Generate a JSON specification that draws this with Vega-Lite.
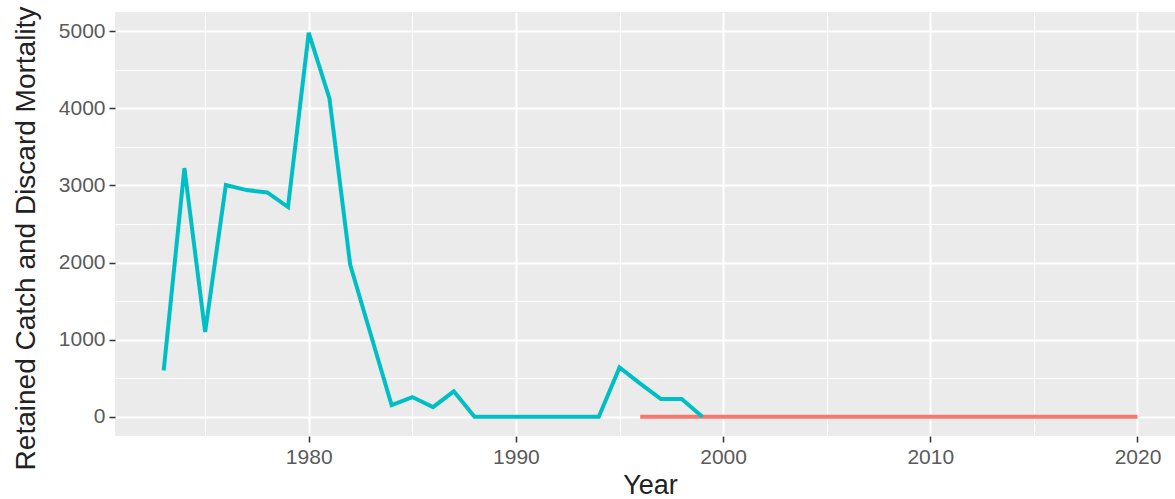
{
  "$schema": "https://vega.github.io/schema/vega-lite/v6.json",
  "width": 1060,
  "height": 424,
  "autosize": {"type": "none"},
  "padding": {"left": 115, "top": 12, "right": 0, "bottom": 63},
  "data": {
    "values": [
      {"year": 1973, "value": 600, "series": "series2"},
      {"year": 1974, "value": 3225, "series": "series2"},
      {"year": 1975, "value": 1100, "series": "series2"},
      {"year": 1976, "value": 3005, "series": "series2"},
      {"year": 1977, "value": 2940, "series": "series2"},
      {"year": 1978, "value": 2910, "series": "series2"},
      {"year": 1979, "value": 2720, "series": "series2"},
      {"year": 1980, "value": 4980, "series": "series2"},
      {"year": 1981, "value": 4130, "series": "series2"},
      {"year": 1982, "value": 1975, "series": "series2"},
      {"year": 1983, "value": 1060, "series": "series2"},
      {"year": 1984, "value": 150, "series": "series2"},
      {"year": 1985, "value": 255, "series": "series2"},
      {"year": 1986, "value": 125, "series": "series2"},
      {"year": 1987, "value": 330, "series": "series2"},
      {"year": 1988, "value": 0, "series": "series2"},
      {"year": 1989, "value": 0, "series": "series2"},
      {"year": 1990, "value": 0, "series": "series2"},
      {"year": 1991, "value": 0, "series": "series2"},
      {"year": 1992, "value": 0, "series": "series2"},
      {"year": 1993, "value": 0, "series": "series2"},
      {"year": 1994, "value": 0, "series": "series2"},
      {"year": 1995, "value": 640, "series": "series2"},
      {"year": 1996, "value": 430, "series": "series2"},
      {"year": 1997, "value": 230, "series": "series2"},
      {"year": 1998, "value": 230, "series": "series2"},
      {"year": 1999, "value": 0, "series": "series2"},
      {"year": 1996, "value": 0, "series": "series1"},
      {"year": 1997, "value": 0, "series": "series1"},
      {"year": 1998, "value": 0, "series": "series1"},
      {"year": 1999, "value": 0, "series": "series1"},
      {"year": 2000, "value": 0, "series": "series1"},
      {"year": 2001, "value": 0, "series": "series1"},
      {"year": 2002, "value": 0, "series": "series1"},
      {"year": 2003, "value": 0, "series": "series1"},
      {"year": 2004, "value": 0, "series": "series1"},
      {"year": 2005, "value": 0, "series": "series1"},
      {"year": 2006, "value": 0, "series": "series1"},
      {"year": 2007, "value": 0, "series": "series1"},
      {"year": 2008, "value": 0, "series": "series1"},
      {"year": 2009, "value": 0, "series": "series1"},
      {"year": 2010, "value": 0, "series": "series1"},
      {"year": 2011, "value": 0, "series": "series1"},
      {"year": 2012, "value": 0, "series": "series1"},
      {"year": 2013, "value": 0, "series": "series1"},
      {"year": 2014, "value": 0, "series": "series1"},
      {"year": 2015, "value": 0, "series": "series1"},
      {"year": 2016, "value": 0, "series": "series1"},
      {"year": 2017, "value": 0, "series": "series1"},
      {"year": 2018, "value": 0, "series": "series1"},
      {"year": 2019, "value": 0, "series": "series1"},
      {"year": 2020, "value": 0, "series": "series1"}
    ]
  },
  "encoding": {
    "x": {
      "field": "year",
      "type": "quantitative",
      "scale": {"domain": [1970.65, 2021.81], "nice": false, "zero": false}
    },
    "y": {
      "field": "value",
      "type": "quantitative",
      "scale": {"domain": [-250, 5250], "nice": false, "zero": false}
    },
    "color": {
      "field": "series",
      "type": "nominal",
      "scale": {"domain": ["series1", "series2"], "range": ["#F8766D", "#00BFC4"]},
      "legend": null
    }
  },
  "layer": [
    {
      "transform": [{"filter": "datum.series == 'series1'"}],
      "mark": {"type": "line", "strokeWidth": 4.2, "strokeCap": "butt"},
      "encoding": {
        "x": {
          "field": "year",
          "type": "quantitative",
          "axis": {
            "orient": "top",
            "values": [1975, 1985, 1995, 2005, 2015],
            "labels": false,
            "ticks": false,
            "domain": false,
            "title": null,
            "grid": true,
            "gridColor": "#FFFFFF",
            "gridWidth": 1,
            "gridOpacity": 1
          }
        },
        "y": {
          "field": "value",
          "type": "quantitative",
          "axis": {
            "orient": "right",
            "values": [500, 1500, 2500, 3500, 4500],
            "labels": false,
            "ticks": false,
            "domain": false,
            "title": null,
            "grid": true,
            "gridColor": "#FFFFFF",
            "gridWidth": 1,
            "gridOpacity": 1
          }
        }
      }
    },
    {
      "transform": [{"filter": "datum.series == 'series2'"}],
      "mark": {"type": "line", "strokeWidth": 4, "strokeCap": "butt", "strokeJoin": "miter"},
      "encoding": {
        "x": {
          "field": "year",
          "type": "quantitative",
          "axis": {
            "orient": "bottom",
            "values": [1980, 1990, 2000, 2010, 2020],
            "format": "d",
            "title": "Year",
            "titleX": 535,
            "titlePadding": 5,
            "domain": false,
            "tickSize": 6,
            "tickWidth": 1.5,
            "tickColor": "#333333",
            "labelPadding": 4,
            "grid": true,
            "gridColor": "#FFFFFF",
            "gridWidth": 2,
            "gridOpacity": 1
          }
        },
        "y": {
          "field": "value",
          "type": "quantitative",
          "axis": {
            "orient": "left",
            "values": [0, 1000, 2000, 3000, 4000, 5000],
            "format": "d",
            "title": "Retained Catch and Discard Mortality",
            "titleY": 226,
            "titleFontSize": 28,
            "titlePadding": 18,
            "domain": false,
            "tickSize": 6,
            "tickWidth": 1.5,
            "tickColor": "#333333",
            "labelPadding": 4,
            "grid": true,
            "gridColor": "#FFFFFF",
            "gridWidth": 2,
            "gridOpacity": 1
          }
        }
      }
    }
  ],
  "resolve": {"axis": {"x": "independent", "y": "independent"}},
  "config": {
    "background": "#FFFFFF",
    "font": "Liberation Sans",
    "view": {"fill": "#EBEBEB", "stroke": null},
    "axis": {
      "labelFont": "Liberation Sans",
      "labelFontSize": 21,
      "labelColor": "#5A5A5A",
      "titleFont": "Liberation Sans",
      "titleFontSize": 27,
      "titleFontWeight": "normal",
      "titleColor": "#222222",
      "zindex": 0
    }
  }
}
